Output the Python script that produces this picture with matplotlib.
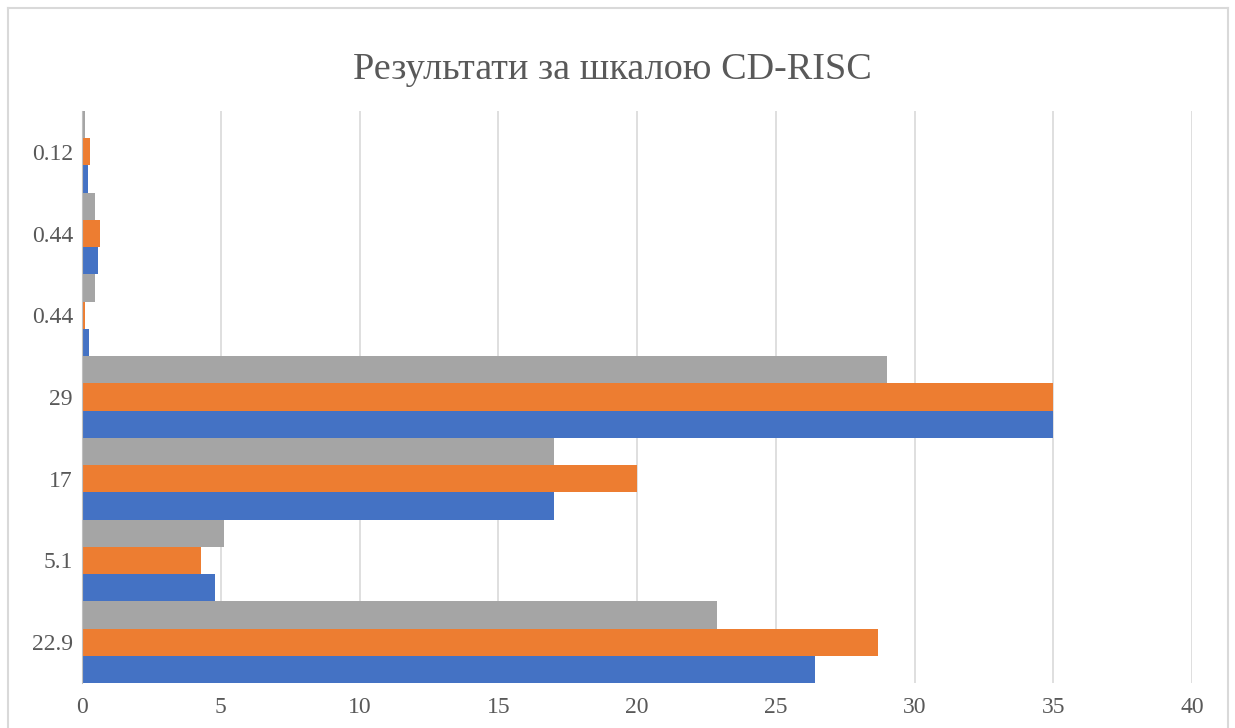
import matplotlib.pyplot as plt
import numpy as np
from matplotlib.lines import Line2D

plt.rcParams['font.family'] = ['Liberation Serif', 'DejaVu Serif']

# categories bottom to top
categories = ['22.9', '5.1', '17', '29', '0.44', '0.44', '0.12']
blue_vals = [26.4, 4.8, 17, 35, 0.25, 0.58, 0.22]
orange_vals = [28.7, 4.3, 20, 35, 0.12, 0.66, 0.3]
gray_vals = [22.9, 5.1, 17, 29, 0.48, 0.48, 0.12]
x_ticks = [0, 5, 10, 15, 20, 25, 30, 35, 40]

text_col = '#595959'
fig = plt.figure(figsize=(12.35, 7.28), dpi=100)
W, H = 1235, 728

ax = fig.add_axes([82 / W, 45 / H, (1192 - 82) / W, (683 - 111) / H])

y = np.arange(len(categories))
h = 1 / 3
ax.barh(y - h, blue_vals, height=h, color='#4472C4', zorder=3)
ax.barh(y, orange_vals, height=h, color='#ED7D31', zorder=3)
ax.barh(y + h, gray_vals, height=h, color='#A5A5A5', zorder=3)

ax.set_xlim(0, 40)
ax.set_ylim(-0.5, 6.5)
ax.set_xticks(x_ticks)
ax.set_yticks(y)
ax.set_yticklabels(categories)
ax.tick_params(axis='both', length=0, labelsize=17, labelcolor=text_col)
ax.tick_params(axis='x', pad=10)
ax.tick_params(axis='y', pad=6.5)
ax.grid(axis='x', color='#D9D9D9', linewidth=1.2, zorder=0)
for s in ['top', 'right', 'bottom']:
    ax.spines[s].set_visible(False)
ax.spines['left'].set_color('#BFBFBF')
ax.spines['left'].set_zorder(4)

fig.text(612 / W, 1 - 79 / H, 'Результати за шкалою CD-RISC', ha='center', va='baseline',
         fontsize=27.5, color=text_col)

# chart border
bc = '#D9D9D9'
fig.add_artist(Line2D([8 / W, 8 / W], [0, 1 - 8 / H], transform=fig.transFigure, color=bc, lw=1.5))
fig.add_artist(Line2D([8 / W, 1228 / W], [1 - 8 / H, 1 - 8 / H], transform=fig.transFigure, color=bc, lw=1.5))
fig.add_artist(Line2D([1228 / W, 1228 / W], [0, 1 - 8 / H], transform=fig.transFigure, color=bc, lw=1.5))

fig.savefig('out.png', dpi=100)
